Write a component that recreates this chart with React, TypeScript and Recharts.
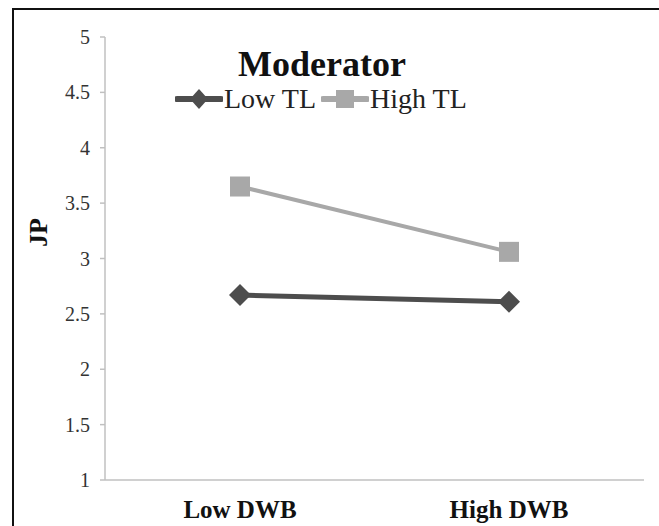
import React from "react";
import { LineChart, Line, XAxis, YAxis, Legend } from "recharts";

const categories = ["Low DWB", "High DWB"];
const lowTL = [2.67, 2.61];
const highTL = [3.65, 3.06];
const yTicks = [1, 1.5, 2, 2.5, 3, 3.5, 4, 4.5, 5];
const frameTicks = [0, 1, 2];

const chartData = categories.map((name, i) => ({
  name,
  low: lowTL[i],
  high: highTL[i],
}));

const SERIF = '"Liberation Serif", "Times New Roman", serif';
const DARK = "#4d4d4d";
const LIGHT = "#a8a8a8";
const AXIS = "#c0c0c0";

const Diamond = (props: any) => {
  const { cx, cy, fill } = props;
  if (cx == null || cy == null) return null;
  return (
    <path
      d={`M${cx - 11},${cy} L${cx},${cy - 11} L${cx + 11},${cy} L${cx},${cy + 11} Z`}
      fill={fill}
    />
  );
};

const Square = (props: any) => {
  const { cx, cy, fill } = props;
  if (cx == null || cy == null) return null;
  return <rect x={cx - 10} y={cy - 10} width={20} height={20} fill={fill} />;
};

function LegendIcon({ color, shape }: { color: string; shape: string }) {
  return (
    <svg width={48} height={24} style={{ display: "block" }}>
      <line x1={2} y1={12} x2={46} y2={12} stroke={color} strokeWidth={6} strokeLinecap="round" />
      {shape === "diamond" ? (
        <path d="M15,12 L24,2 L33,12 L24,22 Z" fill={color} />
      ) : (
        <rect x={15} y={3} width={18} height={18} fill={color} />
      )}
    </svg>
  );
}

function renderLegend() {
  const items = [
    { label: "Low TL", color: DARK, shape: "diamond" },
    { label: "High TL", color: LIGHT, shape: "square" },
  ];
  return (
    <div style={{ display: "flex", alignItems: "center", fontFamily: SERIF, fontSize: 28, color: "#222" }}>
      {items.map((it) => (
        <div key={it.label} style={{ display: "flex", alignItems: "center", marginRight: 5 }}>
          <LegendIcon color={it.color} shape={it.shape} />
          <span style={{ marginLeft: 1, lineHeight: "32px" }}>{it.label}</span>
        </div>
      ))}
    </div>
  );
}

export default function App() {
  return (
    <div
      style={{
        position: "absolute",
        left: 0,
        top: 0,
        width: 659,
        height: 526,
        overflow: "hidden",
        background: "#fff",
      }}
    >
      <div
        style={{
          position: "absolute",
          left: 12,
          top: 8,
          width: 700,
          height: 600,
          borderLeft: "2px solid #111",
          borderTop: "2px solid #111",
        }}
      />
      <div style={{ position: "absolute", left: 0, top: 0 }}>
        <LineChart
          width={659}
          height={526}
          data={chartData}
          margin={{ top: 37, right: 15, left: 0, bottom: 0 }}
        >
          <XAxis
            xAxisId={0}
            type="number"
            domain={[0, 2]}
            ticks={frameTicks}
            allowDataOverflow
            tick={false}
            height={1}
            stroke={AXIS}
            strokeWidth={1.5}
            tickSize={5}
          />
          <XAxis
            xAxisId={1}
            dataKey="name"
            padding={{ left: 135, right: 135 }}
            axisLine={false}
            tickLine={false}
            tickSize={0}
            tickMargin={19}
            height={45}
            tick={{ fill: "#111", fontSize: 25, fontWeight: "bold", fontFamily: SERIF }}
          />
          <YAxis
            domain={[1, 5]}
            ticks={yTicks}
            width={105}
            stroke={AXIS}
            strokeWidth={1.5}
            tickSize={5}
            tickMargin={10}
            tick={{ fill: "#333", fontSize: 20, fontFamily: SERIF }}
            label={{
              content: (p: any) => {
                const vb = p.viewBox || { x: 0, y: 37, width: 105, height: 443 };
                const x = 47;
                const y = vb.y + vb.height / 2 - 26;
                return (
                  <text
                    x={x}
                    y={y}
                    transform={`rotate(-90 ${x} ${y})`}
                    textAnchor="middle"
                    fontFamily={SERIF}
                    fontWeight="bold"
                    fontSize={26}
                    fill="#111"
                  >
                    JP
                  </text>
                );
              },
            }}
          />
          <text
            x={322}
            y={76}
            textAnchor="middle"
            fontFamily={SERIF}
            fontWeight="bold"
            fontSize={36}
            fill="#111"
          >
            Moderator
          </text>
          <Legend
            layout="horizontal"
            verticalAlign="middle"
            align="center"
            content={renderLegend}
            wrapperStyle={{ top: 83, left: 175, width: "auto" }}
          />
          <Line
            xAxisId={1}
            dataKey="low"
            name="Low TL"
            stroke={DARK}
            strokeWidth={5}
            fill={DARK}
            dot={<Diamond />}
            activeDot={false}
            isAnimationActive={false}
          />
          <Line
            xAxisId={1}
            dataKey="high"
            name="High TL"
            stroke={LIGHT}
            strokeWidth={4}
            fill={LIGHT}
            dot={<Square />}
            activeDot={false}
            isAnimationActive={false}
          />
        </LineChart>
      </div>
    </div>
  );
}
